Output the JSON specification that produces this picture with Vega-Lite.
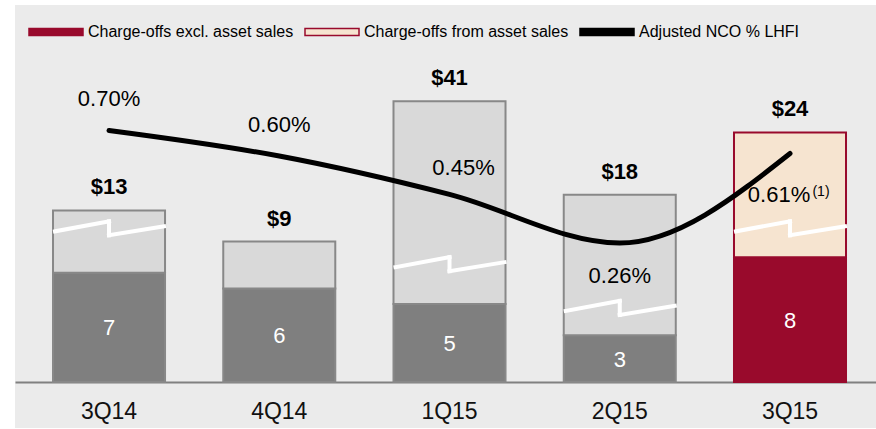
{
  "$schema": "https://vega.github.io/schema/vega-lite/v6.json",
  "width": 861,
  "height": 423,
  "autosize": {"type": "none"},
  "padding": {"left": 15, "top": 5, "right": 0, "bottom": 1},
  "background": "#ffffff",
  "config": {
    "font": "Liberation Sans",
    "view": {"fill": "#ebebeb", "stroke": null},
    "legend": {"labelFontSize": 16, "labelLimit": 0, "labelColor": "#000000", "labelOffset": 4, "columnPadding": 8, "padding": 0, "labelFont": "Liberation Sans", "symbolStrokeWidth": 1.5}
  },
  "data": {"values": [
    {"q": "3Q14", "excl": 7, "total": 13, "disp_top": 11, "brk": 10.3, "nco": 0.0070},
    {"q": "4Q14", "excl": 6, "total": 9, "disp_top": 9, "brk": null, "nco": 0.0060},
    {"q": "1Q15", "excl": 5, "total": 41, "disp_top": 18, "brk": 8.0, "nco": 0.0045},
    {"q": "2Q15", "excl": 3, "total": 18, "disp_top": 12, "brk": 5.2, "nco": 0.0026},
    {"q": "3Q15", "excl": 8, "total": 24, "disp_top": 16, "brk": 10.3, "nco": 0.0061}
  ]},
  "encoding": {
    "x": {
      "field": "q", "type": "nominal", "sort": null,
      "scale": {"paddingInner": 0.342, "paddingOuter": 0.1997, "align": 0.559},
      "axis": {"title": null, "offset": -46, "ticks": false, "tickSize": 0, "labelFontSize": 23, "labelColor": "#111111", "labelPadding": 29, "labelBaseline": "middle", "labelAngle": 0, "domainColor": "#808080", "domainWidth": 2, "labelFont": "Liberation Sans"}
    }
  },
  "layer": [
    {
      "mark": {"type": "bar", "strokeWidth": 2},
      "encoding": {
        "y": {"field": "excl", "type": "quantitative", "scale": {"domain": [-2.949, 24.167], "nice": false, "zero": false}, "axis": null},
        "y2": {"datum": 0},
        "fill": {
          "datum": "Charge-offs excl. asset sales", "type": "nominal",
          "scale": {"domain": ["Charge-offs excl. asset sales", "Charge-offs from asset sales", "Adjusted NCO % LHFI"], "range": ["#990a2c", "#f6e4d0", "#000000"]},
          "legend": {"title": null, "orient": "none", "legendX": 13, "legendY": -1, "direction": "horizontal", "values": ["Charge-offs excl. asset sales", "Charge-offs from asset sales", "Adjusted NCO % LHFI"], "symbolType": "M-1,-0.13H1V0.13H-1Z", "symbolSize": 2916, "symbolStrokeWidth": 1.5, "labelFontSize": 16, "labelLimit": 0, "labelColor": "#000000", "labelOffset": 4, "columnPadding": 8, "padding": 0, "labelFont": "Liberation Sans"},
          "condition": {"test": "datum.q !== '3Q15'", "value": "#7f7f7f"}
        },
        "stroke": {
          "datum": "Charge-offs excl. asset sales", "type": "nominal",
          "scale": {"domain": ["Charge-offs excl. asset sales", "Charge-offs from asset sales", "Adjusted NCO % LHFI"], "range": ["#990a2c", "#990a2c", "#000000"]},
          "legend": {"title": null, "orient": "none", "legendX": 13, "legendY": -1, "direction": "horizontal", "values": ["Charge-offs excl. asset sales", "Charge-offs from asset sales", "Adjusted NCO % LHFI"], "symbolType": "M-1,-0.13H1V0.13H-1Z", "symbolSize": 2916, "symbolStrokeWidth": 1.5, "labelFontSize": 16, "labelLimit": 0, "labelColor": "#000000", "labelOffset": 4, "columnPadding": 8, "padding": 0, "labelFont": "Liberation Sans"},
          "condition": {"test": "datum.q !== '3Q15'", "value": "#888888"}
        }
      }
    },
    {
      "mark": {"type": "bar", "strokeWidth": 2},
      "encoding": {
        "y": {"field": "excl", "type": "quantitative", "scale": {"domain": [-2.949, 24.167], "nice": false, "zero": false}, "axis": null},
        "y2": {"field": "disp_top"},
        "fill": {"datum": "Charge-offs from asset sales", "type": "nominal", "condition": {"test": "datum.q !== '3Q15'", "value": "#d9d9d9"}},
        "stroke": {"datum": "Charge-offs from asset sales", "type": "nominal", "condition": {"test": "datum.q !== '3Q15'", "value": "#888888"}}
      }
    },
    {
      "transform": [{"filter": "isValid(datum.brk)"}],
      "mark": {"type": "rule", "color": "#ffffff", "strokeWidth": 4, "strokeCap": "square", "xOffset": -54, "x2Offset": 0, "yOffset": 10, "y2Offset": 0},
      "encoding": {
        "x2": {"field": "q"},
        "y": {"field": "brk", "type": "quantitative", "scale": {"domain": [-2.949, 24.167], "nice": false, "zero": false}, "axis": null},
        "y2": {"field": "brk"}
      }
    },
    {
      "transform": [{"filter": "isValid(datum.brk)"}],
      "mark": {"type": "rule", "color": "#ffffff", "strokeWidth": 4, "strokeCap": "square", "yOffset": 0, "y2Offset": 14},
      "encoding": {
        "y": {"field": "brk", "type": "quantitative", "scale": {"domain": [-2.949, 24.167], "nice": false, "zero": false}, "axis": null},
        "y2": {"field": "brk"}
      }
    },
    {
      "transform": [{"filter": "isValid(datum.brk)"}],
      "mark": {"type": "rule", "color": "#ffffff", "strokeWidth": 4, "strokeCap": "square", "xOffset": 0, "x2Offset": 55, "yOffset": 14, "y2Offset": 5},
      "encoding": {
        "x2": {"field": "q"},
        "y": {"field": "brk", "type": "quantitative", "scale": {"domain": [-2.949, 24.167], "nice": false, "zero": false}, "axis": null},
        "y2": {"field": "brk"}
      }
    },
    {
      "mark": {"type": "line", "strokeWidth": 5, "interpolate": "monotone", "strokeCap": "round"},
      "encoding": {
        "y": {"field": "nco", "type": "quantitative", "scale": {"domain": [-0.004635, 0.011908], "nice": false, "zero": false}, "axis": null},
        "stroke": {"datum": "Adjusted NCO % LHFI", "type": "nominal"}
      }
    },
    {
      "mark": {"type": "text", "fontSize": 22, "fontWeight": "bold", "baseline": "alphabetic", "dy": -16, "color": "#000000"},
      "encoding": {
        "y": {"field": "disp_top", "type": "quantitative", "scale": {"domain": [-2.949, 24.167], "nice": false, "zero": false}, "axis": null},
        "text": {"field": "total", "type": "quantitative", "format": "$d"}
      }
    },
    {
      "mark": {"type": "text", "fontSize": 22, "baseline": "middle", "dy": 1, "color": "#ffffff"},
      "encoding": {
        "y": {"field": "excl", "type": "quantitative", "scale": {"domain": [-5.898, 48.334], "nice": false, "zero": false}, "axis": null},
        "text": {"field": "excl", "type": "quantitative"}
      }
    },
    {
      "transform": [{"filter": "datum.q === '3Q14' || datum.q === '4Q14'"}],
      "mark": {"type": "text", "fontSize": 22, "baseline": "middle", "dy": -31, "color": "#000000"},
      "encoding": {
        "y": {"field": "nco", "type": "quantitative", "scale": {"domain": [-0.004635, 0.011908], "nice": false, "zero": false}, "axis": null},
        "text": {"field": "nco", "type": "quantitative", "format": ".2%"}
      }
    },
    {
      "transform": [{"filter": "datum.q === '1Q15'"}],
      "mark": {"type": "text", "fontSize": 22, "baseline": "middle", "dx": 14, "dy": -26, "color": "#000000"},
      "encoding": {
        "y": {"field": "nco", "type": "quantitative", "scale": {"domain": [-0.004635, 0.011908], "nice": false, "zero": false}, "axis": null},
        "text": {"field": "nco", "type": "quantitative", "format": ".2%"}
      }
    },
    {
      "transform": [{"filter": "datum.q === '2Q15'"}],
      "mark": {"type": "text", "fontSize": 22, "baseline": "middle", "dy": 33, "color": "#000000"},
      "encoding": {
        "y": {"field": "nco", "type": "quantitative", "scale": {"domain": [-0.004635, 0.011908], "nice": false, "zero": false}, "axis": null},
        "text": {"field": "nco", "type": "quantitative", "format": ".2%"}
      }
    },
    {
      "transform": [{"filter": "datum.q === '3Q15'"}],
      "mark": {"type": "text", "fontSize": 22, "baseline": "middle", "dx": -11, "dy": 41, "color": "#000000"},
      "encoding": {
        "y": {"field": "nco", "type": "quantitative", "scale": {"domain": [-0.004635, 0.011908], "nice": false, "zero": false}, "axis": null},
        "text": {"field": "nco", "type": "quantitative", "format": ".2%"}
      }
    },
    {
      "transform": [{"filter": "datum.q === '3Q15'"}],
      "mark": {"type": "text", "fontSize": 14, "baseline": "middle", "dx": 31, "dy": 38, "color": "#000000"},
      "encoding": {
        "y": {"field": "nco", "type": "quantitative", "scale": {"domain": [-0.004635, 0.011908], "nice": false, "zero": false}, "axis": null},
        "text": {"value": "(1)"}
      }
    }
  ],
  "resolve": {"scale": {"y": "independent"}}
}
